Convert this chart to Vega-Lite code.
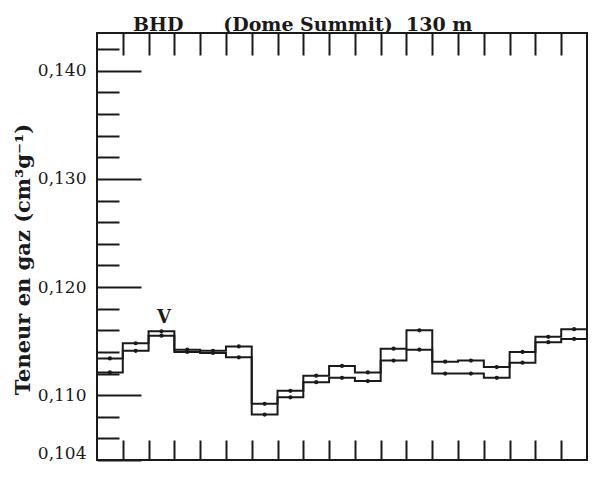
{
  "$schema": "https://vega.github.io/schema/vega-lite/v6.json",
  "width": 490,
  "height": 427,
  "autosize": {"type": "none"},
  "padding": {"left": 97, "top": 33, "right": 8, "bottom": 19},
  "background": "white",
  "view": {"stroke": "#1a1a1a", "strokeWidth": 2},
  "title": {
    "text": "BHD\u00a0\u00a0\u00a0\u00a0\u00a0\u00a0(Dome Summit)\u00a0\u00a0130 m",
    "anchor": "start",
    "frame": "group",
    "dx": 36,
    "offset": -3,
    "font": "DejaVu Serif",
    "fontSize": 19,
    "fontWeight": "bold",
    "color": "#1a1a1a"
  },
  "data": {
    "values": [
      {"step": 0, "start": 0, "end": 1, "upper": 0.1134, "lower": 0.1121},
      {"step": 1, "start": 1, "end": 2, "upper": 0.1148, "lower": 0.1141},
      {"step": 2, "start": 2, "end": 3, "upper": 0.1159, "lower": 0.1155},
      {"step": 3, "start": 3, "end": 4, "upper": 0.1142, "lower": 0.1140},
      {"step": 4, "start": 4, "end": 5, "upper": 0.1141, "lower": 0.1139},
      {"step": 5, "start": 5, "end": 6, "upper": 0.1145, "lower": 0.1135},
      {"step": 6, "start": 6, "end": 7, "upper": 0.1092, "lower": 0.1082},
      {"step": 7, "start": 7, "end": 8, "upper": 0.1104, "lower": 0.1098},
      {"step": 8, "start": 8, "end": 9, "upper": 0.1118, "lower": 0.1112},
      {"step": 9, "start": 9, "end": 10, "upper": 0.1127, "lower": 0.1116},
      {"step": 10, "start": 10, "end": 11, "upper": 0.1121, "lower": 0.1113},
      {"step": 11, "start": 11, "end": 12, "upper": 0.1143, "lower": 0.1132},
      {"step": 12, "start": 12, "end": 13, "upper": 0.1160, "lower": 0.1142},
      {"step": 13, "start": 13, "end": 14, "upper": 0.1131, "lower": 0.1120},
      {"step": 14, "start": 14, "end": 15, "upper": 0.1132, "lower": 0.1120},
      {"step": 15, "start": 15, "end": 16, "upper": 0.1126, "lower": 0.1116},
      {"step": 16, "start": 16, "end": 17, "upper": 0.1140, "lower": 0.1130},
      {"step": 17, "start": 17, "end": 18, "upper": 0.1154, "lower": 0.1149},
      {"step": 18, "start": 18, "end": 19, "upper": 0.1161, "lower": 0.1152}
    ]
  },
  "transform": [
    {"fold": ["upper", "lower"], "as": ["series", "value"]}
  ],
  "layer": [
    {
      "transform": [
        {"fold": ["start", "end"], "as": ["edge", "x"]}
      ],
      "mark": {"type": "line", "color": "#1a1a1a", "strokeWidth": 2},
      "encoding": {
        "x": {
          "field": "x",
          "type": "quantitative",
          "scale": {"domain": [0, 19], "nice": false, "zero": false},
          "axis": {
            "orient": "bottom",
            "values": [1,2,3,4,5,6,7,8,9,10,11,12,13,14,15,16,17,18],
            "tickSize": -20,
            "tickWidth": 2,
            "tickColor": "#1a1a1a",
            "labels": false,
            "domain": false,
            "grid": false,
            "title": null
          }
        },
        "y": {
          "field": "value",
          "type": "quantitative",
          "scale": {"domain": [0.104, 0.1435], "nice": false, "zero": false},
          "axis": {
            "orient": "left",
            "values": [0.104, 0.11, 0.12, 0.13, 0.14],
            "tickSize": -44,
            "tickWidth": 2,
            "tickColor": "#1a1a1a",
            "labelExpr": "replace(format(datum.value, '.3f'), '.', ',')",
            "labelFont": "DejaVu Serif",
            "labelFontSize": 17,
            "labelColor": "#1a1a1a",
            "labelPadding": 55,
            "labelOffset": {"condition": {"test": "datum.value < 0.105", "value": -7}, "value": 0},
            "domain": false,
            "grid": false,
            "title": "Teneur en gaz (cm³g⁻¹)",
            "titleFont": "DejaVu Serif",
            "titleFontSize": 21,
            "titleFontWeight": "bold",
            "titleColor": "#1a1a1a",
            "titlePadding": 4,
            "titleY": 226
          }
        },
        "detail": {"field": "series"},
        "order": [{"field": "step"}, {"field": "x"}]
      }
    },
    {
      "mark": {"type": "rule", "color": "#1a1a1a"},
      "encoding": {
        "x": {
          "field": "start",
          "type": "quantitative",
          "axis": {
            "orient": "top",
            "values": [1,2,3,4,5,6,7,8,9,10,11,12,13,14,15,16,17,18],
            "tickSize": -22,
            "tickWidth": 2,
            "tickColor": "#1a1a1a",
            "labels": false,
            "domain": false,
            "grid": false,
            "title": null
          }
        },
        "y": {
          "field": "value",
          "type": "quantitative",
          "axis": {
            "orient": "left",
            "values": [0.106,0.108,0.112,0.114,0.116,0.118,0.122,0.124,0.126,0.128,0.132,0.134,0.136,0.138,0.142],
            "tickSize": -22,
            "tickWidth": 2,
            "tickColor": "#1a1a1a",
            "labels": false,
            "domain": false,
            "grid": false,
            "title": null
          }
        },
        "opacity": {"value": 0}
      }
    },
    {
      "transform": [
        {"calculate": "(datum.start + datum.end) / 2", "as": "mid"}
      ],
      "mark": {"type": "point", "filled": true, "color": "#1a1a1a", "size": 18, "opacity": 1},
      "encoding": {
        "x": {"field": "mid", "type": "quantitative", "axis": null},
        "y": {"field": "value", "type": "quantitative", "axis": null}
      }
    },
    {
      "data": {"values": [{"label": "V", "pos": 2.6, "level": 0.1171}]},
      "mark": {"type": "text", "font": "DejaVu Serif", "fontSize": 18, "fontWeight": "bold", "color": "#1a1a1a"},
      "encoding": {
        "x": {"field": "pos", "type": "quantitative", "axis": null},
        "y": {"field": "level", "type": "quantitative", "axis": null},
        "text": {"field": "label"}
      }
    }
  ],
  "resolve": {"axis": {"x": "independent", "y": "independent"}}
}
